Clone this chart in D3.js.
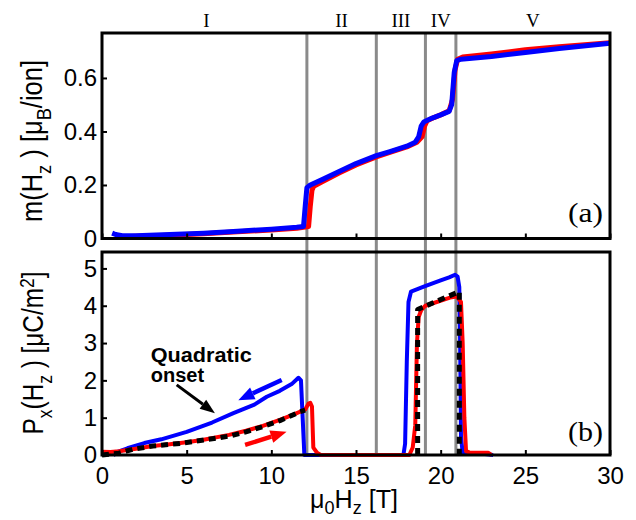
<!DOCTYPE html>
<html>
  <head>
    <meta charset="utf-8">
    <script src="https://d3js.org/d3.v7.min.js"></script>
    <style>
      body { margin: 0; background: #fff; }
      text { font-family: "Liberation Sans", Arial, sans-serif; }
      .serif { font-family: "Liberation Serif", "Times New Roman", serif; }
    </style>
  </head>
  <body>
    <svg id="fig" width="636" height="520"></svg>
    <script>
      // ---- data ----
      // phase boundaries (T) and region names
      const boundaries = [0, 12.1, 16.2, 19.1, 20.9, 30];
      const regionNames = ["I", "II", "III", "IV", "V"];

      // (a) magnetization, field down sweep (blue)
      const mDownH = [0.6, 0.8, 1.2, 2, 4, 6, 8, 10, 11.5, 11.9, 12.0, 12.1, 12.3, 13, 14, 15, 16.2, 17, 18, 18.5, 18.7, 18.85, 19.0, 19.5, 20, 20.5, 20.65, 20.8, 20.95, 21.2, 23, 25, 27, 30];
      const mDownM = [0.02, 0.015, 0.01, 0.01, 0.015, 0.02, 0.027, 0.035, 0.042, 0.045, 0.12, 0.19, 0.2, 0.22, 0.25, 0.28, 0.31, 0.325, 0.345, 0.36, 0.38, 0.42, 0.435, 0.45, 0.462, 0.475, 0.5, 0.62, 0.665, 0.67, 0.68, 0.695, 0.71, 0.73];
      // (a) magnetization, field up sweep (red)
      const mUpH = [0.8, 2, 4, 6, 8, 10, 11.5, 12.2, 12.3, 12.4, 12.5, 13, 14, 15, 16.2, 17, 18, 18.6, 18.9, 19.05, 19.2, 19.6, 20, 20.5, 20.7, 20.85, 21.0, 21.3, 23, 25, 27, 30];
      const mUpM = [0.005, 0.008, 0.012, 0.018, 0.025, 0.032, 0.038, 0.045, 0.12, 0.18, 0.195, 0.212, 0.245, 0.275, 0.305, 0.322, 0.342, 0.36, 0.38, 0.42, 0.44, 0.452, 0.462, 0.477, 0.52, 0.63, 0.67, 0.678, 0.69, 0.705, 0.717, 0.732];

      // (b) polarization, field down sweep (blue)
      const pDownH = [0.67, 1.0, 1.5, 2.0, 2.5, 3.5, 5, 6.5, 7.76, 9, 9.73, 10.5, 11.2, 11.6, 11.75, 11.85, 11.95, 13, 15, 17.8, 17.9, 18.0, 18.1, 18.25, 19, 20, 20.5, 20.85, 21.0, 21.1, 21.15, 21.2, 21.3, 22.5, 23.1];
      const pDownP = [0, 0.1, 0.18, 0.25, 0.32, 0.42, 0.62, 0.87, 1.12, 1.35, 1.56, 1.72, 1.9, 2.07, 2.0, 1.0, 0, 0, 0, 0, 0.3, 2.5, 4.1, 4.38, 4.51, 4.68, 4.76, 4.83, 4.78, 4.5, 3.0, 0.5, 0.05, 0.03, 0];
      // (b) polarization, field up sweep (red)
      const pUpH = [0, 0.5, 1, 2, 3, 4, 5, 6, 7.5, 8.5, 9.5, 10.5, 11.3, 12.0, 12.2, 12.3, 12.4, 12.48, 12.7, 12.9, 15, 18.15, 18.35, 18.5, 18.6, 18.7, 18.85, 19.1, 20.55, 20.95, 21.2, 21.3, 21.4, 21.5, 21.7, 22.8, 23];
      const pUpP = [0.09, 0.08, 0.1, 0.17, 0.24, 0.29, 0.34, 0.41, 0.54, 0.65, 0.78, 0.94, 1.08, 1.22, 1.38, 1.4, 1.3, 0.2, 0.06, 0.01, 0, 0, 0.2, 0.8, 3.0, 3.7, 3.88, 4.0, 4.22, 4.25, 4.1, 3.0, 1.0, 0.1, 0.07, 0.06, 0];
      // (b) model curves (black dashed): quadratic onset and phase IV step
      const fitLowH = [0, 1, 1.8, 3, 4.6, 6, 7.56, 8.5, 9.5, 10.5, 11.7, 12.0];
      const fitLowP = [0, 0.05, 0.15, 0.24, 0.31, 0.4, 0.51, 0.62, 0.76, 0.92, 1.16, 1.2];
      const fitStepH = [18.64, 18.64, 21.1, 21.1];
      const fitStepP = [0, 3.9, 4.38, 0];

      // annotation arrows in data units [H1, P1, H2, P2]
      const arrowBlue = [10.61, 2.01, 8.05, 1.47];
      const arrowRed = [8.45, 0.27, 10.9, 0.62];
      const arrowBlack = [4.41, 1.88, 6.67, 1.12];

      const xTicks = [0, 5, 10, 15, 20, 25, 30];
      const mTicks = [0, 0.2, 0.4, 0.6];
      const pTicks = [0, 1, 2, 3, 4, 5];

      // ---- layout ----
      const svg = d3.select("svg#fig");
      const left = 102, right = 610;
      const topA = 33, botA = 238.5, topB = 252, botB = 455;

      const x = d3.scaleLinear().domain([0, 30]).range([left, right]);
      const yA = d3.scaleLinear().domain([0, 0.768]).range([botA, topA]);
      const yB = d3.scaleLinear().domain([0, 5.44]).range([botB, topB]);

      // gray phase boundary lines across both panels
      svg.selectAll("line.phase").data(boundaries.slice(1, -1))
        .join("line")
        .attr("x1", d => x(d)).attr("x2", d => x(d))
        .attr("y1", topA).attr("y2", botB)
        .attr("stroke", "#8a8a8a").attr("stroke-width", 3);

      // region names
      svg.selectAll("text.region").data(regionNames)
        .join("text")
        .attr("class", "serif")
        .attr("x", (d, i) => x((boundaries[i] + boundaries[i + 1]) / 2) + (i == 0 ? 2 : 0))
        .attr("y", 26.5)
        .attr("text-anchor", "middle")
        .attr("font-size", 19)
        .text(d => d);

      function curve(g, hs, vs, yScale, color, width, dash) {
        const pts = hs.map((h, i) => [h, vs[i]]);
        const line = d3.line().x(d => x(d[0])).y(d => yScale(d[1]));
        g.append("path").datum(pts)
          .attr("d", line)
          .attr("fill", "none")
          .attr("stroke", color)
          .attr("stroke-width", width)
          .attr("stroke-linejoin", "round")
          .attr("stroke-dasharray", dash || null);
      }

      const gA = svg.append("g");
      curve(gA, mUpH, mUpM, yA, "#ff0000", 5);
      curve(gA, mDownH, mDownM, yA, "#0000ff", 5);

      const gB = svg.append("g");
      curve(gB, pDownH, pDownP, yB, "#0000ff", 4);
      curve(gB, pUpH, pUpP, yB, "#ff0000", 4);
      curve(gB, fitLowH, fitLowP, yB, "#000", 5, "7,5");
      curve(gB, fitStepH, fitStepP, yB, "#000", 5, "7,5");

      function arrow(a, color, w, headL, headW) {
        const x1 = x(a[0]), y1 = yB(a[1]), x2 = x(a[2]), y2 = yB(a[3]);
        const ang = Math.atan2(y2 - y1, x2 - x1);
        const bx = x2 - headL * Math.cos(ang), by = y2 - headL * Math.sin(ang);
        svg.append("line")
          .attr("x1", x1).attr("y1", y1).attr("x2", bx).attr("y2", by)
          .attr("stroke", color).attr("stroke-width", w);
        const nx = -Math.sin(ang) * headW / 2, ny = Math.cos(ang) * headW / 2;
        svg.append("polygon")
          .attr("points", [[x2, y2], [bx + nx, by + ny], [bx - nx, by - ny]].map(p => p.join(",")).join(" "))
          .attr("fill", color);
      }
      arrow(arrowBlue, "#0000ff", 4.5, 16, 13);
      arrow(arrowRed, "#ff0000", 4.5, 16, 13);
      arrow(arrowBlack, "#000", 3, 15, 11);

      // "Quadratic onset" label
      svg.append("text")
        .attr("x", x(2.88)).attr("y", yB(2.5))
        .attr("font-size", 20).attr("font-weight", "bold")
        .attr("textLength", 101).attr("lengthAdjust", "spacingAndGlyphs")
        .text("Quadratic");
      svg.append("text")
        .attr("x", x(2.88)).attr("y", yB(1.96))
        .attr("font-size", 20).attr("font-weight", "bold")
        .text("onset");

      // axes (ticks inside)
      function styleAxis(g) {
        g.select(".domain").remove();
        g.selectAll(".tick line").attr("stroke", "#000").attr("stroke-width", 2);
        g.selectAll(".tick text").attr("font-size", 24).attr("fill", "#000")
          .attr("font-family", "Liberation Sans, Arial, sans-serif");
      }
      svg.append("g").attr("transform", `translate(0,${botA})`)
        .call(d3.axisBottom(x).tickValues(xTicks).tickSize(-5).tickFormat(""))
        .call(styleAxis);
      svg.append("g").attr("transform", `translate(0,${botB})`)
        .call(d3.axisBottom(x).tickValues(xTicks).tickSize(-5).tickPadding(12).tickFormat(d3.format("d")))
        .call(styleAxis);
      svg.append("g").attr("transform", `translate(${left},0)`)
        .call(d3.axisLeft(yA).tickValues(mTicks).tickSize(-5).tickPadding(5).tickFormat(d3.format("~g")))
        .call(styleAxis);
      svg.append("g").attr("transform", `translate(${left},0)`)
        .call(d3.axisLeft(yB).tickValues(pTicks).tickSize(-5).tickPadding(5).tickFormat(d3.format("d")))
        .call(styleAxis);

      // frames
      [[topA, botA], [topB, botB]].forEach(([t, b]) => {
        svg.append("rect")
          .attr("x", left).attr("y", t)
          .attr("width", right - left).attr("height", b - t)
          .attr("fill", "none").attr("stroke", "#000").attr("stroke-width", 3);
      });

      // panel tags
      svg.append("text").attr("class", "serif")
        .attr("x", 603).attr("y", 222).attr("text-anchor", "end")
        .attr("font-size", 27).attr("textLength", 35).attr("lengthAdjust", "spacingAndGlyphs")
        .text("(a)");
      svg.append("text").attr("class", "serif")
        .attr("x", 603).attr("y", 441).attr("text-anchor", "end")
        .attr("font-size", 27).attr("textLength", 35).attr("lengthAdjust", "spacingAndGlyphs")
        .text("(b)");

      // axis titles built from pieces: [text, shift] (shift: 1 = sub, -1 = sup)
      // the text is measured and squeezed to the wanted length and cap height
      function title(base, pieces, fs, wantLen, wantCap, shift) {
        const t = svg.append("text")
          .attr("text-anchor", "middle").attr("font-size", fs);
        let cur = 0;
        pieces.forEach(([s, k]) => {
          const target = k * fs * shift;
          t.append("tspan")
            .attr("dy", target - cur)
            .attr("font-size", k ? fs * 0.72 : fs)
            .text(s);
          cur = target;
        });
        const len = t.node().getComputedTextLength();
        const sx = len > 0 ? wantLen / len : 1, sy = wantCap / (0.716 * fs);
        t.attr("transform", `${base} scale(${sx},${sy})`);
        return t;
      }
      title("translate(42,141) rotate(-90)",
        [["m(H", 0], ["z", 1], [" ) [μ", 0], ["B", 1], ["/ion]", 0]], 26, 162, 21, 0.3);
      title("translate(43,353) rotate(-90)",
        [["P", 0], ["x", 1], ["(H", 0], ["z", 1], [" ) [μC/m", 0], ["2", -1], ["]", 0]], 26, 163, 21, 0.3);
      title("translate(354,508)",
        [["μ", 0], ["0", 1], ["H", 0], ["z", 1], [" [T]", 0]], 26, 88, 18.5, 0.24);
    </script>
  </body>
</html>
